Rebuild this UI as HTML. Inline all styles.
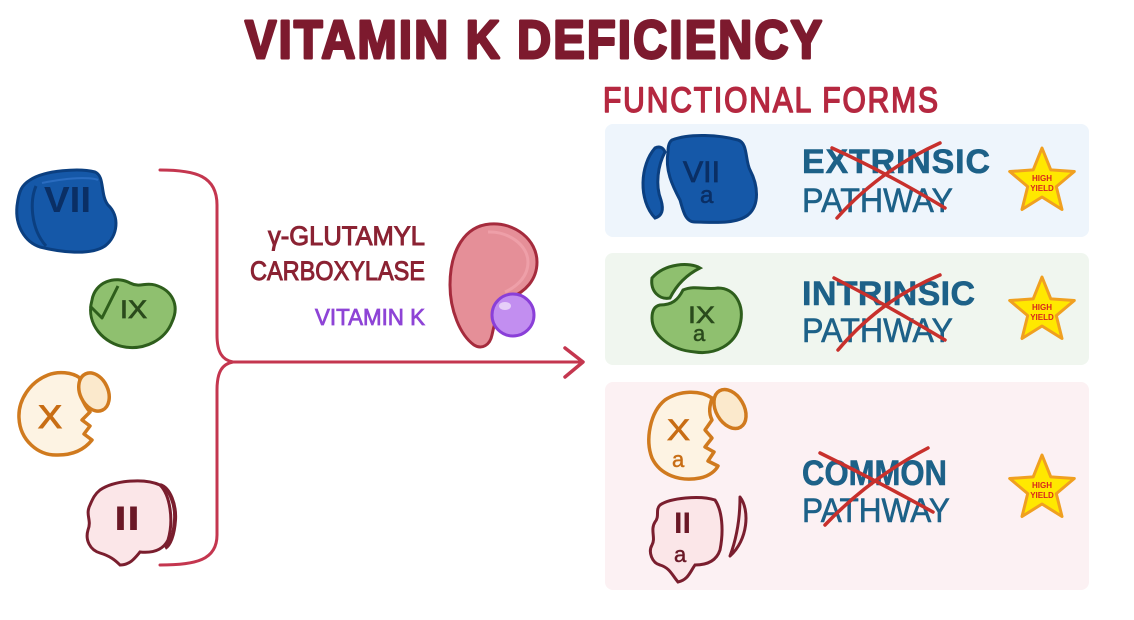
<!DOCTYPE html>
<html>
<head>
<meta charset="utf-8">
<style>
html,body{margin:0;padding:0;background:#fff;}
body{width:1134px;height:620px;overflow:hidden;}
svg{display:block;}
text{font-family:"Liberation Sans",sans-serif;}
</style>
</head>
<body>
<svg width="1134" height="620" viewBox="0 0 1134 620" xmlns="http://www.w3.org/2000/svg">
<rect width="1134" height="620" fill="#ffffff"/>

<!-- Title -->
<text transform="translate(245,58) scale(1,1.15)" x="0" y="0" font-size="47" font-weight="bold" fill="#7d1a2e" stroke="#7d1a2e" stroke-width="2.5" stroke-linejoin="round" textLength="577" lengthAdjust="spacing">VITAMIN K DEFICIENCY</text>
<text transform="translate(603,112) scale(1,1.17)" x="0" y="0" font-size="30" fill="#b52840" stroke="#b52840" stroke-width="1.3" stroke-linejoin="round" textLength="335" lengthAdjust="spacing">FUNCTIONAL FORMS</text>

<!-- Panels -->
<rect x="605" y="124" width="484" height="113" rx="8" fill="#eef5fc"/>
<rect x="605" y="253" width="484" height="112" rx="8" fill="#f0f6ef"/>
<rect x="605" y="382" width="484" height="208" rx="8" fill="#fcf1f3"/>

<!-- Bracket and arrow -->
<path d="M160,170 C196,170 217,176 217,205 L217,335 C217,352 222,360 233,362 C222,364 217,372 217,390 L217,535 C217,560 196,565 160,565" fill="none" stroke="#c4364f" stroke-width="3" stroke-linecap="round"/>
<path d="M233,362 L582,362" fill="none" stroke="#c4364f" stroke-width="3" stroke-linecap="round"/>
<path d="M565,348 L583,362 L565,377" fill="none" stroke="#c4364f" stroke-width="3.5" stroke-linecap="round" stroke-linejoin="round"/>

<!-- Enzyme labels -->
<text x="268" y="245" font-size="27" fill="#8b2233" stroke="#8b2233" stroke-width="1" textLength="157" lengthAdjust="spacingAndGlyphs">γ-GLUTAMYL</text>
<text x="250" y="280" font-size="27" fill="#8b2233" stroke="#8b2233" stroke-width="1" textLength="175" lengthAdjust="spacingAndGlyphs">CARBOXYLASE</text>
<text x="315" y="325" font-size="23" fill="#8e44d6" stroke="#8e44d6" stroke-width="0.8" textLength="110" lengthAdjust="spacingAndGlyphs">VITAMIN K</text>

<!-- Enzyme blob -->
<path d="M490,224 C515,222 537,240 537,262 C537,280 525,292 510,298 C500,305 495,320 492,335 C490,345 482,350 474,345 C460,335 450,310 450,285 C450,250 465,226 490,224 Z" fill="#e58f98" stroke="#a52b3d" stroke-width="3"/>
<path d="M488,232 C508,231 528,245 528,262 C528,276 518,286 505,292" fill="none" stroke="#ee9fa8" stroke-width="3"/>
<circle cx="513" cy="315" r="21" fill="#c28ef0" stroke="#8a3fd8" stroke-width="3"/>
<ellipse cx="505" cy="306" rx="6" ry="4" fill="#e6cff8"/>

<!-- VII (left) -->
<path d="M30,180 C45,170 80,168 95,172 C105,176 100,195 108,205 C120,216 118,236 105,246 C90,256 60,252 40,247 C25,242 15,226 17,206 C19,190 22,185 30,180 Z" fill="#1558a8" stroke="#0b3f80" stroke-width="3"/>
<path d="M36,186 C30,200 30,228 46,246" fill="none" stroke="#0b3f80" stroke-width="3"/>
<path d="M42,183 C76,176 94,178 98,180" fill="none" stroke="#2a6cc0" stroke-width="2"/>
<text x="44" y="212" font-size="36" font-weight="bold" fill="#0a2f65" textLength="47" lengthAdjust="spacingAndGlyphs">VII</text>

<!-- IX (left) -->
<path d="M92,300 C95,282 115,275 130,283 C140,288 145,282 155,285 C172,290 180,305 172,322 C165,340 145,350 125,347 C105,344 85,325 92,300 Z" fill="#8fc06f" stroke="#2e5e1c" stroke-width="3"/>
<path d="M90,306 L102,318 L118,286" fill="none" stroke="#2e5e1c" stroke-width="3" stroke-linejoin="round"/>
<text x="120" y="318" font-size="25" fill="#2a4a1c" stroke="#2a4a1c" stroke-width="0.8" textLength="27" lengthAdjust="spacingAndGlyphs">IX</text>

<!-- X (left) -->
<path d="M80,378 C72,372 58,371 48,375 C30,382 18,400 19,418 C20,440 38,456 58,455 C72,455 84,450 92,440 L84,434 L90,426 L82,420 L90,412 C84,405 78,394 80,378 Z" fill="#fdf3e3" stroke="#d07a1e" stroke-width="3.5" stroke-linejoin="round"/>
<ellipse cx="94" cy="392" rx="14" ry="20" transform="rotate(-25 94 392)" fill="#fbe9cc" stroke="#d07a1e" stroke-width="3.5"/>
<text x="38" y="428" font-size="32" fill="#c86d14" stroke="#c86d14" stroke-width="1" textLength="24" lengthAdjust="spacingAndGlyphs">X</text>

<!-- II (left) -->
<path d="M100,490 C115,480 145,478 160,485 C170,495 174,520 168,540 C162,552 150,553 140,552 C135,558 130,565 120,565 C115,560 110,556 100,553 C90,550 85,540 88,530 C92,520 85,515 90,505 C93,498 95,494 100,490 Z" fill="#fbe6e8" stroke="#7a1e2e" stroke-width="3"/>
<path d="M160,485 C170,488 176,505 175,520 C174,535 170,545 165,548" fill="none" stroke="#7a1e2e" stroke-width="4"/>
<text x="114" y="530" font-size="34" font-weight="bold" fill="#6a1826" textLength="26" lengthAdjust="spacingAndGlyphs">II</text>

<!-- VIIa (panel 1) -->
<path d="M655,148 C640,165 638,200 655,218 C662,216 664,210 661,200 C655,185 658,165 665,152 C663,147 659,146 655,148 Z" fill="#1558a8" stroke="#0b3f80" stroke-width="3"/>
<path d="M672,140 C690,133 720,135 738,140 C748,143 745,160 750,170 C758,185 760,205 748,215 C735,225 710,222 695,222 C685,222 683,210 680,200 C672,185 665,170 668,152 C668,146 669,142 672,140 Z" fill="#1558a8" stroke="#0b3f80" stroke-width="3"/>
<text x="683" y="182" font-size="30" fill="#0a2f65" stroke="#0a2f65" stroke-width="0.8" textLength="37" lengthAdjust="spacingAndGlyphs">VII</text>
<text x="700" y="203" font-size="24" fill="#0a2f65" stroke="#0a2f65" stroke-width="0.6">a</text>

<!-- IXa (panel 2) -->
<path d="M652,278 C665,263 690,262 700,268 C690,273 678,282 670,298 C660,300 650,292 652,278 Z" fill="#8fc06f" stroke="#2e5e1c" stroke-width="3"/>
<path d="M660,305 C672,305 678,300 683,290 C695,285 705,290 718,288 C735,288 745,305 740,325 C735,345 715,355 695,352 C670,350 652,335 652,318 C652,310 655,306 660,305 Z" fill="#8fc06f" stroke="#2e5e1c" stroke-width="3"/>
<text x="688" y="323" font-size="24" fill="#2a4a1c" stroke="#2a4a1c" stroke-width="0.6" textLength="27" lengthAdjust="spacingAndGlyphs">IX</text>
<text x="693" y="341" font-size="22" fill="#2a4a1c" stroke="#2a4a1c" stroke-width="0.5">a</text>

<!-- Xa (panel 3) -->
<path d="M712,398 C700,390 680,390 665,400 C650,412 645,440 652,458 C660,475 680,482 700,478 C710,476 716,470 718,466 L708,461 L714,452 L705,447 L712,438 L705,430 L712,420 C708,412 710,405 712,398 Z" fill="#fdf3e3" stroke="#d07a1e" stroke-width="3.5" stroke-linejoin="round"/>
<ellipse cx="730" cy="409" rx="14" ry="21" transform="rotate(-30 730 409)" fill="#fbe9cc" stroke="#d07a1e" stroke-width="3.5"/>
<text x="667" y="440" font-size="30" fill="#c86d14" stroke="#c86d14" stroke-width="0.8" textLength="23" lengthAdjust="spacingAndGlyphs">X</text>
<text x="672" y="467" font-size="22" fill="#c86d14" stroke="#c86d14" stroke-width="0.5">a</text>

<!-- IIa (panel 3) -->
<path d="M660,505 C670,498 700,495 715,500 C722,510 724,530 720,550 C716,562 705,565 695,565 C690,572 688,580 678,582 C672,575 670,568 660,565 C652,563 648,552 652,545 C656,538 650,530 655,522 C660,516 655,510 660,505 Z" fill="#fbe6e8" stroke="#7a1e2e" stroke-width="3"/>
<path d="M740,497 C750,510 748,540 730,556 C736,540 740,520 740,497 Z" fill="#fbe6e8" stroke="#7a1e2e" stroke-width="3" stroke-linejoin="round"/>
<text x="674" y="533" font-size="30" font-weight="bold" fill="#6a1826" textLength="17" lengthAdjust="spacingAndGlyphs">II</text>
<text x="674" y="562" font-size="22" fill="#6a1826" stroke="#6a1826" stroke-width="0.5">a</text>

<!-- Pathway texts -->
<g fill="#1d6188" stroke="#1d6188" stroke-linejoin="round">
<text x="802" y="173" font-size="34" font-weight="bold" stroke-width="0.6" textLength="188" lengthAdjust="spacing">EXTRINSIC</text>
<text x="802" y="212" font-size="34" stroke-width="0.6" textLength="151" lengthAdjust="spacingAndGlyphs">PATHWAY</text>
<text x="802" y="305" font-size="34" font-weight="bold" stroke-width="0.6" textLength="173" lengthAdjust="spacing">INTRINSIC</text>
<text x="802" y="342" font-size="34" stroke-width="0.6" textLength="151" lengthAdjust="spacingAndGlyphs">PATHWAY</text>
<text x="802" y="485" font-size="35" font-weight="bold" stroke-width="0.6" textLength="145" lengthAdjust="spacingAndGlyphs">COMMON</text>
<text x="802" y="522" font-size="34" stroke-width="0.6" textLength="148" lengthAdjust="spacingAndGlyphs">PATHWAY</text>
</g>

<!-- Red crosses -->
<g stroke="#c8302c" stroke-width="3.5" stroke-linecap="round" fill="none">
<path d="M832,148 Q885,172 945,208"/>
<path d="M837,218 Q880,170 940,143"/>
<path d="M834,278 Q885,304 945,340"/>
<path d="M838,350 Q880,300 940,275"/>
<path d="M820,453 Q875,480 933,512"/>
<path d="M825,525 Q870,478 928,448"/>
</g>

<!-- Stars -->
<g transform="translate(1042,182)">
<path d="M0,-34 L8.8,-12.1 L32.3,-10.5 L14.3,4.6 L20,27.5 L0,15 L-20,27.5 L-14.3,4.6 L-32.3,-10.5 L-8.8,-12.1 Z" fill="#ffe800" stroke="#f0a020" stroke-width="3" stroke-linejoin="round"/>
<text x="0" y="-1" font-size="8" font-weight="bold" fill="#d8261e" text-anchor="middle">HIGH</text>
<text x="0" y="9" font-size="8" font-weight="bold" fill="#d8261e" text-anchor="middle">YIELD</text>
</g>
<g transform="translate(1042,311)">
<path d="M0,-34 L8.8,-12.1 L32.3,-10.5 L14.3,4.6 L20,27.5 L0,15 L-20,27.5 L-14.3,4.6 L-32.3,-10.5 L-8.8,-12.1 Z" fill="#ffe800" stroke="#f0a020" stroke-width="3" stroke-linejoin="round"/>
<text x="0" y="-1" font-size="8" font-weight="bold" fill="#d8261e" text-anchor="middle">HIGH</text>
<text x="0" y="9" font-size="8" font-weight="bold" fill="#d8261e" text-anchor="middle">YIELD</text>
</g>
<g transform="translate(1042,489)">
<path d="M0,-34 L8.8,-12.1 L32.3,-10.5 L14.3,4.6 L20,27.5 L0,15 L-20,27.5 L-14.3,4.6 L-32.3,-10.5 L-8.8,-12.1 Z" fill="#ffe800" stroke="#f0a020" stroke-width="3" stroke-linejoin="round"/>
<text x="0" y="-1" font-size="8" font-weight="bold" fill="#d8261e" text-anchor="middle">HIGH</text>
<text x="0" y="9" font-size="8" font-weight="bold" fill="#d8261e" text-anchor="middle">YIELD</text>
</g>
</svg>
</body>
</html>
